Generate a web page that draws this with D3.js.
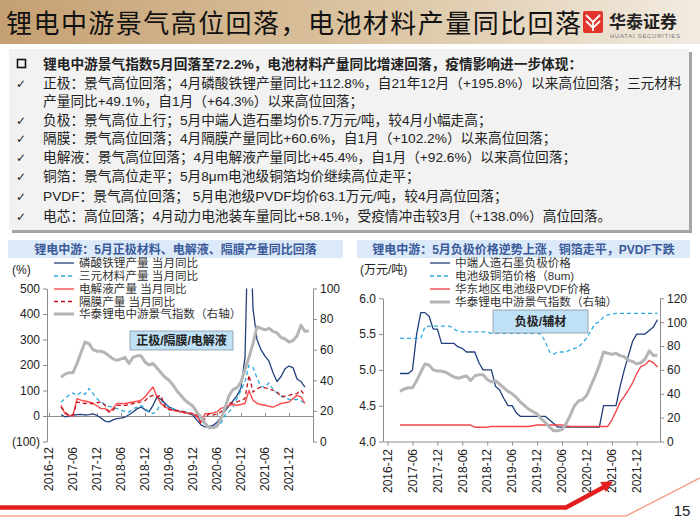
<!DOCTYPE html>
<html><head><meta charset="utf-8">
<script src="https://cdn.jsdelivr.net/npm/d3@7"></script>
<style>body{margin:0;background:#fff} svg{display:block}</style>
</head><body><svg id="c" width="700" height="525"></svg>
<script>
// ---------------- DATA ----------------
const titleText = "锂电中游景气高位回落，电池材料产量同比回落";
const bullets = [
  {mark: "box", bold: true, text: "锂电中游景气指数5月回落至72.2%，电池材料产量同比增速回落，疫情影响进一步体现："},
  {mark: "check", text: "正极：景气高位回落；4月磷酸铁锂产量同比+112.8%，自21年12月（+195.8%）以来高位回落；三元材料"},
  {mark: "", text: "产量同比+49.1%，自1月（+64.3%）以来高位回落；"},
  {mark: "check", text: "负极：景气高位上行；5月中端人造石墨均价5.7万元/吨，较4月小幅走高；"},
  {mark: "check", text: "隔膜：景气高位回落；4月隔膜产量同比+60.6%，自1月（+102.2%）以来高位回落；"},
  {mark: "check", text: "电解液：景气高位回落；4月电解液产量同比+45.4%，自1月（+92.6%）以来高位回落；"},
  {mark: "check", text: "铜箔：景气高位走平；5月8μm电池级铜箔均价继续高位走平；"},
  {mark: "check", text: "PVDF：景气高位回落； 5月电池级PVDF均价63.1万元/吨，较4月高位回落；"},
  {mark: "check", text: "电芯：高位回落；4月动力电池装车量同比+58.1%，受疫情冲击较3月（+138.0%）高位回落。"}
];
const xTickLabels = ["2016-12","2017-06","2017-12","2018-06","2018-12","2019-06","2019-12","2020-06","2020-12","2021-06","2021-12"];
const seriesStart = "2017-03";

// Left chart (% YoY), from 2017-03
const lfpYoY = [5,-3,0,3,5,6,4,5,8,2, -8,-20,-23,-15,-10,-8,-4,5,16,28, 35,25,16,42,75,65,50,35,28,20,
  15,12,9,3,-17,-35,-43,-42,-37,-25, -5,20,40,60,80,110,230,900,420,300, 260,235,215,170,135,155,185,195.8,190,145, 135,112.8];
const ncmYoY = [55,68,82,90,80,94,85,108,88,68, 55,45,38,35,29,22,18,16,28,35, 42,30,16,9,20,55,45,35,29,22,
  18,16,12,9,0,-17,-32,-43,-43,-38, -28,3,16,35,70,100,134,199,190,150, 114,114,130,105,90,80,72,65,64.3,65, 60,49.1];
const electrolyteYoY = [42,9,2,0,68,62,59,55,49,40, 29,29,16,30,49,49,49,52,55,58, 62,75,95,114,75,49,35,29,22,18,
  16,12,10,9,-4,-23,9,9,12,16, 30,35,42,45,42,45,50,100,62,49, 45,42,38,35,42,49,52,55,68,81, 75,49];
const separatorYoY = [35,15,2,5,55,52,49,49,49,52, 55,42,16,22,42,42,42,45,49,52, 55,60,75,81,75,81,35,25,22,22,
  20,16,12,10,3,-30,-10,9,3,8, 16,35,49,52,55,62,68,160,94,107, 114,110,107,101,95,75,78,81,85,88, 101,80];
const boomIndex = [42,44,45,45,51,58,65,64,60,59, 59,58,56,54,53,54,55,51,55,56, 56,52,50,51,48,45,42,40,37,33,
  30,27,25,23,19,16,12,9,9,10, 15,22,30,34,35,39,47,55,64,75, 74,73,74,72,71,68,67,65,66,69, 76,72,72.2];

// Right chart (万元/吨), from 2017-03
const graphitePrice = [4.95,4.95,4.95,5.0,5.5,5.8,5.8,5.75,5.57,5.57, 5.37,5.37,5.37,5.37,5.32,5.3,5.25,5.25,5.25,5.1,
  5.0,5.0,5.0,4.77,4.72,4.6,4.5,4.5,4.4,4.35, 4.35,4.35,4.35,4.35,4.35,4.35,4.3,4.25,4.2,4.2,
  4.2,4.2,4.2,4.2,4.2,4.2,4.2,4.2,4.2,4.5, 4.5,4.5,4.5,4.77,5.0,5.2,5.4,5.5,5.5,5.5, 5.55,5.6,5.7];
const copperFoilPrice = [5.44,5.44,5.44,5.44,5.44,5.44,5.6,5.61,5.61,5.61, 5.61,5.61,5.61,5.57,5.54,5.53,5.53,5.53,5.53,5.53,
  5.53,5.53,5.51,5.51,5.51,5.51,5.51,5.51,5.51,5.51, 5.51,5.51,5.51,5.51,5.5,5.39,5.25,5.22,5.25,5.25,
  5.25,5.28,5.3,5.32,5.38,5.45,5.55,5.65,5.67,5.74, 5.77,5.78,5.79,5.79,5.79,5.79,5.79,5.79,5.79,5.79, 5.79,5.79,5.79];
const pvdfPrice = [4.23,4.23,4.23,4.23,4.23,4.23,4.23,4.23,4.23,4.23, 4.23,4.23,4.23,4.23,4.23,4.23,4.23,4.23,4.2,4.2,
  4.2,4.2,4.21,4.21,4.21,4.21,4.21,4.21,4.21,4.21, 4.21,4.21,4.22,4.23,4.23,4.23,4.23,4.23,4.23,4.23,
  4.22,4.21,4.21,4.21,4.21,4.21,4.21,4.21,4.21,4.21, 4.21,4.3,4.42,4.55,4.63,4.72,4.82,4.95,5.05,5.07, 5.13,5.1,5.04];

const leftLegend = ["磷酸铁锂产量 当月同比","三元材料产量 当月同比","电解液产量 当月同比","隔膜产量 当月同比","华泰锂电中游景气指数（右轴）"];
const rightLegend = ["中端人造石墨负极价格","电池级铜箔价格（8um)","华东地区电池级PVDF价格","华泰锂电中游景气指数（右轴）"];

// ---------------- HELPERS ----------------
const FONT = "'Liberation Sans','Noto Sans CJK SC',sans-serif";
const CJK = "'Liberation Sans','Noto Sans CJK SC',sans-serif";
const mIdx = s => { const [y, m] = s.split("-").map(Number); return (y - 2016) * 12 + (m - 12); };
const toPts = arr => arr.map((v, i) => ({m: mIdx(seriesStart) + i, v}));

const svg = d3.select("#c");
const defs = svg.append("defs");

// ---------------- TITLE BAR ----------------
const grad = defs.append("linearGradient").attr("id", "tg").attr("x1", 0).attr("x2", 1);
grad.append("stop").attr("offset", "0").attr("stop-color", "#c5a072");
grad.append("stop").attr("offset", "0.55").attr("stop-color", "#dcc6a4");
grad.append("stop").attr("offset", "1").attr("stop-color", "#f2ebe1");
svg.append("rect").attr("x", 0).attr("y", 0).attr("width", 700).attr("height", 44).attr("fill", "url(#tg)");
svg.append("text").attr("x", 6).attr("y", 33).attr("font-family", CJK).attr("font-size", 26)
  .attr("fill", "#111").attr("textLength", 575).attr("lengthAdjust", "spacing").text(titleText);

// logo
const logo = svg.append("g");
logo.append("rect").attr("x", 583).attr("y", 11).attr("width", 20).attr("height", 22).attr("rx", 2).attr("fill", "#e2362c");
logo.append("path").attr("d", "M586,15 L593,22 L600,15 M586,21 L593,28 L600,21 M593,22 L593,31")
  .attr("fill", "none").attr("stroke", "#fff").attr("stroke-width", 1.8);
logo.append("text").attr("x", 609).attr("y", 28).attr("font-family", CJK).attr("font-size", 17)
  .attr("font-weight", "bold").attr("fill", "#222").text("华泰证券");
logo.append("text").attr("x", 610).attr("y", 38).attr("font-family", FONT).attr("font-size", 6)
  .attr("fill", "#777").attr("textLength", 70).text("HUATAI SECURITIES");

// ---------------- TEXT BOX ----------------
svg.append("rect").attr("x", 12).attr("y", 52).attr("width", 680).attr("height", 181).attr("fill", "#a4a4a4");
svg.append("rect").attr("x", 9).attr("y", 49).attr("width", 680).attr("height", 181).attr("fill", "#f2f2f2");
const rowY = [64, 83, 101, 120, 138, 157, 176, 196, 216];
bullets.forEach((b, i) => {
  const y = rowY[i];
  if (b.mark === "box") {
    svg.append("rect").attr("x", 17.5).attr("y", y - 4.5).attr("width", 8).attr("height", 8)
      .attr("fill", "none").attr("stroke", "#111").attr("stroke-width", 1.6);
  } else if (b.mark === "check") {
    svg.append("text").attr("x", 16).attr("y", y + 5).attr("font-family", "'DejaVu Sans'")
      .attr("font-size", 12).attr("fill", "#222").text("✓");
  }
  svg.append("text").attr("x", 43).attr("y", y + 5).attr("font-family", CJK).attr("font-size", 13.7)
    .attr("font-weight", b.bold ? "bold" : "normal").attr("fill", "#222").text(b.text);
});

// ---------------- CHART HELPER ----------------
function header(x0, x1, txt) {
  svg.append("rect").attr("x", x0).attr("y", 240).attr("width", x1 - x0).attr("height", 18).attr("fill", "#dbe9f8");
  svg.append("text").attr("x", (x0 + x1) / 2).attr("y", 253.5).attr("text-anchor", "middle")
    .attr("font-family", CJK).attr("font-size", 12).attr("font-weight", "bold").attr("fill", "#3a5a9a").text(txt);
}
function styleAxis(g) {
  g.selectAll("path.domain").attr("stroke", "#8c8c8c");
  g.selectAll(".tick line").attr("stroke", "#8c8c8c");
  g.selectAll(".tick text").attr("font-family", FONT).attr("font-size", 12).attr("fill", "#222");
}
function xLabels(x, yTop) {
  const g = svg.append("g");
  xTickLabels.forEach(l => {
    g.append("text").attr("transform", `translate(${x(mIdx(l))},${yTop}) rotate(-90)`)
      .attr("text-anchor", "end").attr("dy", "0.35em").attr("font-family", FONT).attr("font-size", 12)
      .attr("fill", "#222").text(l);
  });
}
function legend(x, ys, labels, styles) {
  labels.forEach((l, i) => {
    const s = styles[i];
    svg.append("line").attr("x1", x).attr("x2", x + 20).attr("y1", ys[i]).attr("y2", ys[i])
      .attr("stroke", s.color).attr("stroke-width", s.w).attr("stroke-dasharray", s.dash || null);
    svg.append("text").attr("x", x + 25).attr("y", ys[i] + 4).attr("font-family", CJK).attr("font-size", 11.6)
      .attr("fill", "#333").text(l);
  });
}
function drawLine(g, data, x, y, s) {
  g.append("path").datum(toPts(data)).attr("fill", "none").attr("stroke", s.color).attr("stroke-width", s.w)
    .attr("stroke-dasharray", s.dash || null).attr("stroke-linejoin", "round")
    .attr("d", d3.line().x(d => x(d.m)).y(d => y(d.v)));
}
function annBox(x0, y0, w, h, txt) {
  svg.append("rect").attr("x", x0).attr("y", y0).attr("width", w).attr("height", h)
    .attr("fill", "#bfe1f5").attr("stroke", "#8a97a3").attr("stroke-width", 0.8);
  svg.append("text").attr("x", x0 + w / 2).attr("y", y0 + h / 2 + 4.5).attr("text-anchor", "middle")
    .attr("font-family", CJK).attr("font-size", 12).attr("font-weight", "bold").attr("fill", "#222").text(txt);
}

const S = {
  navy: {color: "#203f7c", w: 1.3},
  cyan: {color: "#2eaadf", w: 1.3, dash: "4,3"},
  red: {color: "#ff4d4d", w: 1.4},
  dred: {color: "#c0101c", w: 1.3, dash: "4,3"},
  gray: {color: "#b5b5b5", w: 3}
};

// ---------------- LEFT CHART ----------------
header(8, 343, "锂电中游：5月正极材料、电解液、隔膜产量同比回落");
const xL = d3.scaleLinear().domain([-0.5, 66]).range([47, 313]);
const yL = d3.scaleLinear().domain([-100, 500]).range([441.5, 288.5]);
const yL2 = d3.scaleLinear().domain([0, 100]).range([441.5, 288.5]);
defs.append("clipPath").attr("id", "clipL").append("rect").attr("x", 47).attr("y", 288.5).attr("width", 266).attr("height", 153);

const gLy = svg.append("g").attr("transform", "translate(47,0)")
  .call(d3.axisLeft(yL).tickValues([-100,0,100,200,300,400,500]).tickSize(4).tickSizeOuter(0)
    .tickFormat(v => v < 0 ? `(${-v})` : v));
styleAxis(gLy);
const gLy2 = svg.append("g").attr("transform", "translate(313,0)")
  .call(d3.axisRight(yL2).tickValues([0,20,40,60,80,100]).tickSize(4).tickSizeOuter(0));
styleAxis(gLy2);
const gLx = svg.append("g").attr("transform", `translate(0,${yL(0)})`)
  .call(d3.axisBottom(xL).tickValues(xTickLabels.map(mIdx)).tickSize(-3).tickSizeOuter(0).tickFormat(""));
styleAxis(gLx);
xLabels(xL, 447);

const pL = svg.append("g").attr("clip-path", "url(#clipL)");
drawLine(pL, lfpYoY, xL, yL, S.navy);
drawLine(pL, ncmYoY, xL, yL, S.cyan);
drawLine(pL, electrolyteYoY, xL, yL, S.red);
drawLine(pL, separatorYoY, xL, yL, S.dred);
drawLine(pL, boomIndex, xL, yL2, S.gray);

svg.append("text").attr("x", 12).attr("y", 274).attr("font-family", FONT).attr("font-size", 12).attr("fill", "#222").text("(%)");
legend(54, [263, 276, 289, 301.5, 314], leftLegend, [S.navy, S.cyan, S.red, S.dred, S.gray]);
annBox(130, 331, 103, 19, "正极/隔膜/电解液");

// ---------------- RIGHT CHART ----------------
header(357, 690, "锂电中游：5月负极价格逆势上涨，铜箔走平，PVDF下跌");
const xR = d3.scaleLinear().domain([-1.1, 65.6]).range([383, 660]);
const yR = d3.scaleLinear().domain([4.0, 6.0]).range([441.5, 298.3]);
const yR2 = d3.scaleLinear().domain([0, 120]).range([441.5, 298.3]);
defs.append("clipPath").attr("id", "clipR").append("rect").attr("x", 383).attr("y", 296).attr("width", 277).attr("height", 146);

const gRy = svg.append("g").attr("transform", "translate(383,0)")
  .call(d3.axisLeft(yR).tickValues([4.0,4.5,5.0,5.5,6.0]).tickSize(4).tickSizeOuter(0).tickFormat(d3.format(".1f")));
styleAxis(gRy);
const gRy2 = svg.append("g").attr("transform", "translate(660,0)")
  .call(d3.axisRight(yR2).tickValues([0,20,40,60,80,100,120]).tickSize(4).tickSizeOuter(0));
styleAxis(gRy2);
const gRx = svg.append("g").attr("transform", "translate(0,441.5)")
  .call(d3.axisBottom(xR).tickValues(xTickLabels.map(mIdx)).tickSize(4).tickSizeOuter(0).tickFormat(""));
styleAxis(gRx);
xLabels(xR, 449);

const pR = svg.append("g").attr("clip-path", "url(#clipR)");
drawLine(pR, graphitePrice, xR, yR, S.navy);
drawLine(pR, copperFoilPrice, xR, yR, S.cyan);
drawLine(pR, pvdfPrice, xR, yR, {color: "#f2474a", w: 1.4});
drawLine(pR, boomIndex, xR, yR2, S.gray);

svg.append("text").attr("x", 360).attr("y", 274).attr("font-family", CJK).attr("font-size", 12).attr("fill", "#222").text("(万元/吨)");
legend(430, [263, 276, 289, 302], rightLegend, [S.navy, S.cyan, {color: "#f2474a", w: 1.4}, S.gray]);
annBox(493, 310, 95, 23, "负极/辅材");

// ---------------- FOOTER ----------------
svg.append("path").attr("d", "M0,516 L626,516 L700,478").attr("fill", "none").attr("stroke", "#f4a488").attr("stroke-width", 1.5);
svg.append("path").attr("d", "M0,507.5 L566,507.5 L604,487").attr("fill", "none").attr("stroke", "#e41e1e").attr("stroke-width", 4.5);
svg.append("path").attr("d", "M613,481.5 L605.7,492 L600.2,482 Z").attr("fill", "#e41e1e");
svg.append("text").attr("x", 682).attr("y", 516).attr("text-anchor", "middle").attr("font-family", FONT)
  .attr("font-size", 15).attr("fill", "#222").text("15");
</script></body></html>
